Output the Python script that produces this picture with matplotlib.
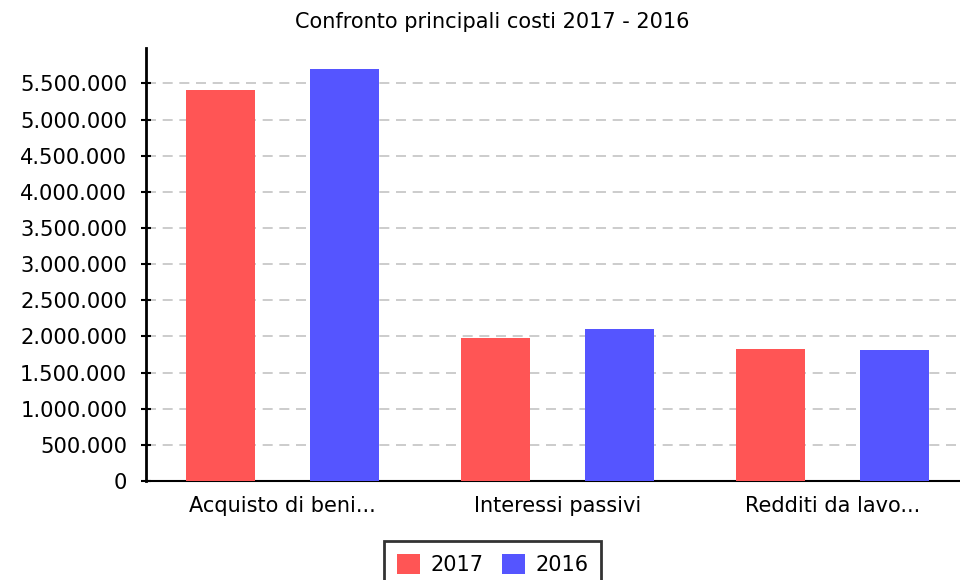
import matplotlib.pyplot as plt
import matplotlib.ticker as mticker
import numpy as np

categorie = ['Acquisto di beni...', 'Interessi passivi', 'Redditi da lavo...']
costi_2017 = [5410000, 1977000, 1824000]
costi_2016 = [5700000, 2101000, 1810000]

rosso = '#FF5555'
blu = '#5555FF'

fig = plt.figure(figsize=(9.6, 5.8), dpi=100)
ax = fig.add_axes([146/960, 1-481/580, 1-146/960, (481-48)/580])

x = np.arange(len(categorie))
off = 0.2255
w = 0.251
ax.bar(x - off, costi_2017, width=w, color=rosso, label='2017', zorder=3)
ax.bar(x + off, costi_2016, width=w, color=blu, label='2016', zorder=3)

ax.set_xlim(-0.496, 2.462)
ax.set_ylim(0, 5.99e6)
ax.yaxis.set_major_locator(mticker.MultipleLocator(500000))
ax.yaxis.set_major_formatter(mticker.FuncFormatter(lambda v, p: f'{v:,.0f}'.replace(',', '.')))
ax.set_xticks(x)
ax.set_xticklabels(categorie)

ax.grid(axis='y', color='#c4c4c4', linestyle=(0, (6, 4)), linewidth=1.2, zorder=0)
ax.tick_params(axis='y', direction='inout', length=7, width=1.5, labelsize=15.2, pad=10)
ax.tick_params(axis='x', length=0, labelsize=15, pad=11)

for s in ['top', 'right']:
    ax.spines[s].set_visible(False)
ax.spines['left'].set_linewidth(2)
ax.spines['bottom'].set_linewidth(1.5)

fig.text(492/960, 1-22/580, 'Confronto principali costi 2017 - 2016', ha='center', va='center', fontsize=15)

leg = fig.legend(loc='upper center', bbox_to_anchor=(492.5/960, 1-541/580), ncol=2,
                 fontsize=15, frameon=True, fancybox=False, edgecolor='black',
                 handlelength=1.1, handleheight=1.1, handletextpad=0.5, columnspacing=0.9,
                 borderpad=0.6, borderaxespad=0)
leg.get_frame().set_linewidth(2)

fig.savefig('out.png', dpi=100)
